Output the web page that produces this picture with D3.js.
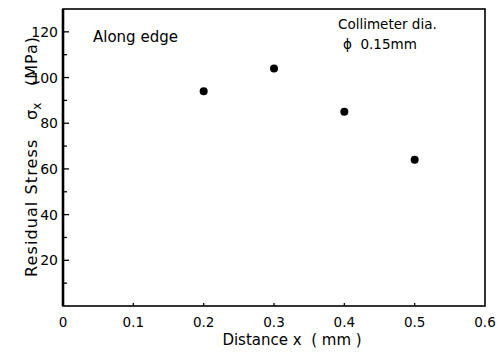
<!DOCTYPE html>
<meta charset="utf-8">
<script src="https://d3js.org/d3.v7.min.js"></script>
<style>
  body { margin: 0; background: #fff; }
  text { font-family: "DejaVu Sans", "Liberation Sans", sans-serif; fill: #000; }
</style>
<div id="chart"></div>
<script>

var distance = [0.2, 0.3, 0.4, 0.5]
var stress = [94, 104, 85, 64]
var xTicks = [0, 0.1, 0.2, 0.3, 0.4, 0.5, 0.6]
var yTicks = [20, 40, 60, 80, 100, 120]
var yMinor = [10, 30, 50, 70, 90, 110]

var width = 504, height = 353
var plotLeft = 63, plotRight = 485, plotTop = 9, plotBottom = 306

var svg = d3.select("#chart").append("svg")
    .attr("width", width)
    .attr("height", height)

var x = d3.scaleLinear().domain([0, 0.6]).range([plotLeft, plotRight])
var y = d3.scaleLinear().domain([0, 130]).range([plotBottom, plotTop])

// frame
svg.append("rect")
    .attr("x", plotLeft).attr("y", plotTop)
    .attr("width", plotRight - plotLeft).attr("height", plotBottom - plotTop)
    .attr("fill", "none").attr("stroke", "#000").attr("stroke-width", 1.6)
svg.append("line")
    .attr("x1", plotLeft).attr("x2", plotLeft).attr("y1", plotTop).attr("y2", plotBottom)
    .attr("stroke", "#000").attr("stroke-width", 2.6)

// y ticks (inside)
svg.selectAll(".ymaj").data(yTicks).enter().append("line")
    .attr("x1", plotLeft).attr("x2", plotLeft + 6)
    .attr("y1", d => y(d)).attr("y2", d => y(d))
    .attr("stroke", "#000").attr("stroke-width", 1.3)
svg.selectAll(".ymin").data(yMinor).enter().append("line")
    .attr("x1", plotLeft).attr("x2", plotLeft + 4)
    .attr("y1", d => y(d)).attr("y2", d => y(d))
    .attr("stroke", "#000").attr("stroke-width", 1.3)
svg.selectAll(".ylab").data(yTicks).enter().append("text")
    .attr("x", plotLeft - 5)
    .attr("y", d => y(d) + 5)
    .attr("text-anchor", "end")
    .style("font-size", "14px")
    .text(d => d)

// x ticks (inside)
svg.selectAll(".xt").data(xTicks.slice(1, -1)).enter().append("line")
    .attr("x1", d => x(d)).attr("x2", d => x(d))
    .attr("y1", plotBottom).attr("y2", plotBottom - 3)
    .attr("stroke", "#000").attr("stroke-width", 1.3)
svg.selectAll(".xlab").data(xTicks).enter().append("text")
    .attr("x", d => x(d))
    .attr("y", 327)
    .attr("text-anchor", "middle")
    .style("font-size", "13.5px")
    .text(d => d)

// axis titles
svg.append("text")
    .attr("x", 292).attr("y", 345)
    .attr("text-anchor", "middle")
    .style("font-size", "15px")
    .attr("xml:space", "preserve")
    .text("Distance x  ( mm )")

svg.append("text")
    .attr("transform", "translate(37,277) rotate(-90)")
    .style("font-size", "16px")
    .style("letter-spacing", "1.1px")
    .text("Residual Stress")
var sig = svg.append("text")
    .attr("transform", "translate(37,120) rotate(-90)")
    .style("font-size", "16px")
sig.append("tspan").text("σ")
sig.append("tspan").attr("dy", 4).style("font-size", "12px").text("x")
svg.append("text")
    .attr("transform", "translate(37,86) rotate(-90)")
    .style("font-size", "16px")
    .style("letter-spacing", "1px")
    .text("(MPa)")

// annotations
svg.append("text").attr("x", 93).attr("y", 42)
    .style("font-size", "15px").text("Along edge")
svg.append("text").attr("x", 338).attr("y", 29)
    .style("font-size", "13.5px").text("Collimeter dia.")
svg.append("text").attr("x", 343).attr("y", 49)
    .style("font-size", "13.5px").attr("xml:space", "preserve").text("ϕ  0.15mm")

// points
svg.selectAll("circle").data(distance).enter().append("circle")
    .attr("cx", d => x(d))
    .attr("cy", (d, i) => y(stress[i]))
    .attr("r", 4)
    .attr("fill", "#000")

</script>
